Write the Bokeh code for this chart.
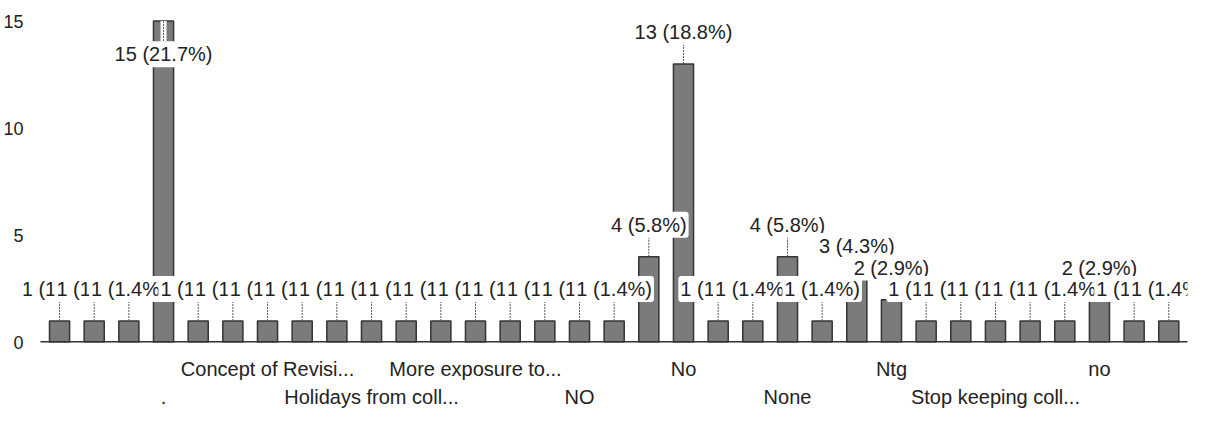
from bokeh.plotting import figure
from bokeh.models import Range1d, FixedTicker, LinearAxis, ColumnDataSource
from bokeh.embed import file_html
from bokeh.resources import INLINE
from bokeh.core.properties import value

# ---- data ----
categories = ["", "", "", ".", "", "", "Concept of Revisi...", "", "",
              "Holidays from coll...", "", "", "More exposure to...", "", "",
              "NO", "", "", "No", "", "", "None", "", "", "Ntg", "", "",
              "Stop keeping coll...", "", "", "no", "", ""]
counts = [1, 1, 1, 15, 1, 1, 1, 1, 1, 1, 1, 1, 1, 1, 1, 1, 1,
          4, 13, 1, 1, 4, 1, 3, 2, 1, 1, 1, 1, 1, 2, 1, 1]
y_ticks = [0, 5, 10, 15]

FONT = "Liberation Sans"
total = sum(counts)
ymax = 15
xs = list(range(len(counts)))

inside = [c >= ymax for c in counts]
labels = [f"{c} ({c / total * 100:.1f}%)" for c in counts]
label_y = [c - 1.55 if ins else c + 1.5 for c, ins in zip(counts, inside)]
lead_y1 = [c - 0.95 if ins else c + 0.95 for c, ins in zip(counts, inside)]

src = ColumnDataSource(dict(x=xs, top=counts, label=labels, ly=label_y, l1=lead_y1))

p = figure(width=1194, height=422, output_backend="svg", toolbar_location=None,
           x_range=Range1d(-1.04, 32.54), y_range=Range1d(0, 15.4),
           min_border_left=20, min_border_right=7, min_border_top=12,
           min_border_bottom=80)
p.background_fill_color = "white"
p.border_fill_color = "white"
p.outline_line_color = None
p.xgrid.visible = False
p.ygrid.visible = False

p.vbar(x="x", top="top", bottom=0, width=0.58, source=src,
       fill_color="#7b7b7b", line_color="#343434", line_width=1.5)

# baseline (category axis line) spanning the bars
p.segment(x0=[xs[0] - 0.55], y0=[0], x1=[xs[-1] + 0.55], y1=[0],
          line_color="#333333", line_width=3)

# leader lines
ins_x = [x for x, i in zip(xs, inside) if i]
ins_top = [c for c, i in zip(counts, inside) if i]
ins_l1 = [l for l, i in zip(lead_y1, inside) if i]
p.segment(x0=ins_x, y0=ins_top, x1=ins_x, y1=ins_l1, line_color="white", line_width=6)
p.segment(x0="x", y0="top", x1="x", y1="l1", source=src,
          line_color="#555555", line_width=1, line_dash="2 1")

p.text(x="x", y="ly", text="label", source=src, text_align="center",
       text_baseline="middle", text_font=value(FONT), text_font_size="20px",
       text_color="#222222", background_fill_color="white", padding=2,
       border_radius=3)

# y axis
ya = p.yaxis[0]
ya.ticker = FixedTicker(ticks=y_ticks)
ya.axis_line_color = None
ya.major_tick_line_color = None
ya.minor_tick_line_color = None
ya.major_tick_out = 0
ya.major_tick_in = 0
ya.major_label_standoff = 0
ya.major_label_text_font = FONT
ya.major_label_text_font_size = "18px"
ya.major_label_text_color = "#222222"

# x axes: two staggered rows of category labels
row1 = [i for i in range(0, len(categories), 6) if categories[i]]
row2 = [i for i in range(3, len(categories), 6) if categories[i]]

xa = p.xaxis[0]
xa.ticker = FixedTicker(ticks=row1)
xa.major_label_overrides = {i: categories[i] for i in row1}
xa.axis_line_color = None
xa.major_tick_line_color = None
xa.minor_tick_line_color = None
xa.major_label_standoff = 9
xa.major_label_text_font = FONT
xa.major_label_text_font_size = "20px"
xa.major_label_text_color = "#222222"

xb = LinearAxis(ticker=FixedTicker(ticks=row2),
                major_label_overrides={i: categories[i] for i in row2})
xb.axis_line_color = None
xb.major_tick_line_color = None
xb.minor_tick_line_color = None
xb.major_label_standoff = -3
xb.major_label_text_font = FONT
xb.major_label_text_font_size = "20px"
xb.major_label_text_color = "#222222"
p.add_layout(xb, "below")

open("out.html", "w").write(file_html(p, INLINE))
